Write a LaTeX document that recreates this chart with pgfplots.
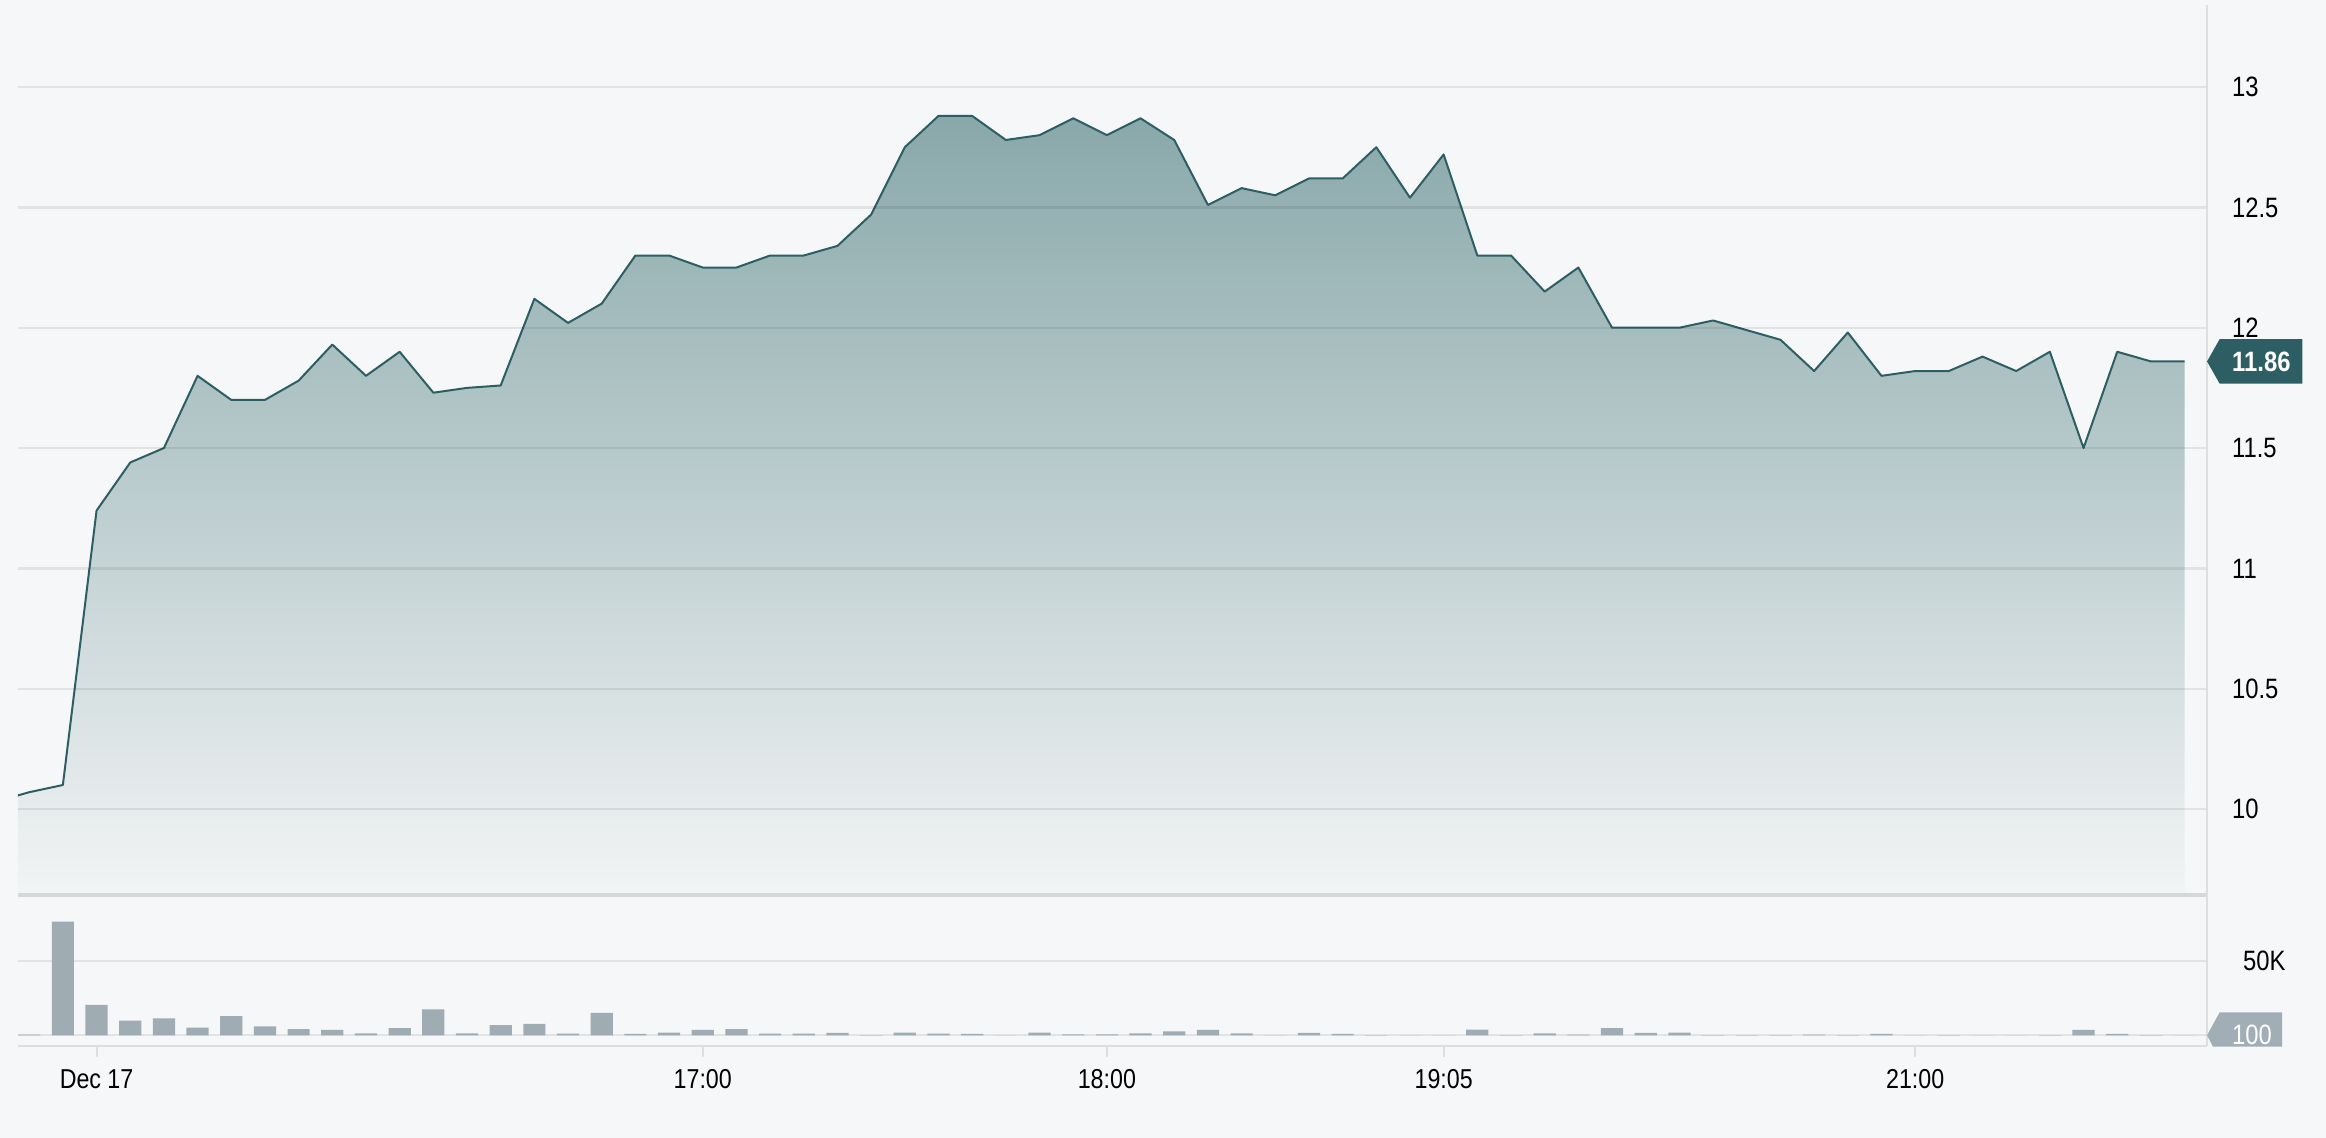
\documentclass[border=0pt]{standalone}
\usepackage{fontspec}
\setmainfont{Liberation Sans}[FakeStretch=0.85]
\usepackage{pgfplots}
\usepackage{pgfplotstable}
\pgfplotsset{compat=1.18}

\definecolor{bg}{HTML}{F5F7F9}
\definecolor{pline}{HTML}{2D5E63}
\definecolor{filltop}{HTML}{89A8AA}
\definecolor{fillbot}{HTML}{F2F4F5}
\definecolor{volbar}{HTML}{9FACB4}
\definecolor{frame}{HTML}{DCDFE2}
\definecolor{sep}{HTML}{D5D8DA}
\definecolor{voltag}{HTML}{A1AEB6}

% i = bar index, price = last price, vol = volume
\pgfplotstableread{
i price vol
-1 10.03 0
0 10.07 500
1 10.10 76300
2 11.24 20500
3 11.44 9800
4 11.50 11400
5 11.80 5100
6 11.70 12900
7 11.70 6000
8 11.78 4200
9 11.93 3600
10 11.80 1300
11 11.90 4900
12 11.73 17400
13 11.75 1300
14 11.76 6900
15 12.12 7600
16 12.02 1100
17 12.10 15000
18 12.30 900
19 12.30 1800
20 12.25 3600
21 12.25 4200
22 12.30 1100
23 12.30 1100
24 12.34 1600
25 12.47 200
26 12.75 1800
27 12.88 1100
28 12.88 900
29 12.78 0
30 12.80 1800
31 12.87 700
32 12.80 700
33 12.87 1300
34 12.78 2700
35 12.51 3600
36 12.58 1300
37 12.55 0
38 12.62 1600
39 12.62 900
40 12.75 200
41 12.54 0
42 12.72 0
43 12.30 3800
44 12.30 200
45 12.15 1300
46 12.25 400
47 12.00 4900
48 12.00 1600
49 12.00 1800
50 12.03 200
51 11.99 200
52 11.95 100
53 11.82 400
54 11.98 100
55 11.80 900
56 11.82 0
57 11.82 200
58 11.88 0
59 11.82 0
60 11.90 200
61 11.50 3600
62 11.90 900
63 11.86 200
64 11.86 0
}\quotes

\begin{document}
\begin{tikzpicture}
\fill[bg] (0,0) rectangle (697.8pt,341.4pt);

% price panel
\begin{axis}[
  name=price,
  at={(5.325pt,72.9pt)}, anchor=south west,
  scale only axis, width=656.78pt, height=267pt,
  xmin=-0.34, xmax=64.667, ymin=9.643, ymax=13.341,
  axis line style={draw=none},
  xtick=\empty,
  ytick={10,10.5,11,11.5,12,12.5,13},
  yticklabel pos=right,
  ytick style={draw=none},
  ymajorgrids, major grid style={draw=black, opacity=0.08, line width=0.7pt},
  yticklabel style={anchor=west, xshift=4pt, font=\fontsize{8.4}{10}\selectfont},
  /pgf/number format/assume math mode=true,
  axis on top
]
\addplot[draw=none, top color=filltop, bottom color=fillbot] table[x=i, y=price] {\quotes} \closedcycle;
\addplot[pline, line width=0.6pt, line join=round] table[x=i, y=price] {\quotes};
\end{axis}

% volume panel
\begin{axis}[
  name=vol,
  at={(5.325pt,27.6pt)}, anchor=south west,
  scale only axis, width=656.78pt, height=45.15pt,
  xmin=-0.34, xmax=64.667, ymin=-7172, ymax=93900,
  axis line style={draw=none},
  xtick={2,20,32,42,56},
  xticklabels={Dec 17,17:00,18:00,19:05,21:00},
  xtick pos=bottom, tick align=outside, major tick length=3.3pt,
  xtick style={draw=frame, line width=0.6pt},
  xticklabel style={font=\fontsize{8.2}{10}\selectfont, yshift=-0.3pt},
  ytick={0,50000}, yticklabels={,50K},
  scaled y ticks=false,
  yticklabel pos=right,
  ytick style={draw=none},
  ymajorgrids, major grid style={draw=black, opacity=0.08, line width=0.7pt},
  yticklabel style={anchor=west, xshift=4pt, font=\fontsize{8.4}{10}\selectfont},
  /pgf/number format/assume math mode=true
]
\addplot[ybar, fill=volbar, draw=none, bar width=0.659, bar shift=0] table[x=i, y=vol] {\quotes};
\end{axis}

% frame lines
\draw[sep, line width=1.2pt] (5.325pt,72.75pt) -- (662.1pt,72.75pt);
\draw[frame, line width=0.6pt] (5.325pt,27.6pt) -- (662.1pt,27.6pt);
\draw[frame, line width=0.7pt] (662.1pt,27.6pt) -- (662.1pt,339.9pt);

% last price tag
\fill[pline] (662.1pt,232.97pt) -- (665.9pt,239.67pt) -- (690.7pt,239.67pt)
  -- (690.7pt,226.27pt) -- (665.9pt,226.27pt) -- cycle;
\node[text=white, font=\fontsize{8.4}{10}\selectfont\bfseries] at (678.4pt,232.97pt) {11.86};
% last volume tag
\fill[voltag] (662.1pt,30.8pt) -- (665.9pt,37.7pt) -- (684.6pt,37.7pt)
  -- (684.6pt,27.4pt) -- (663.9pt,27.4pt) -- cycle;
\node[text=white, font=\fontsize{8.4}{10}\selectfont] at (675.6pt,30.8pt) {100};
\end{tikzpicture}
\end{document}
